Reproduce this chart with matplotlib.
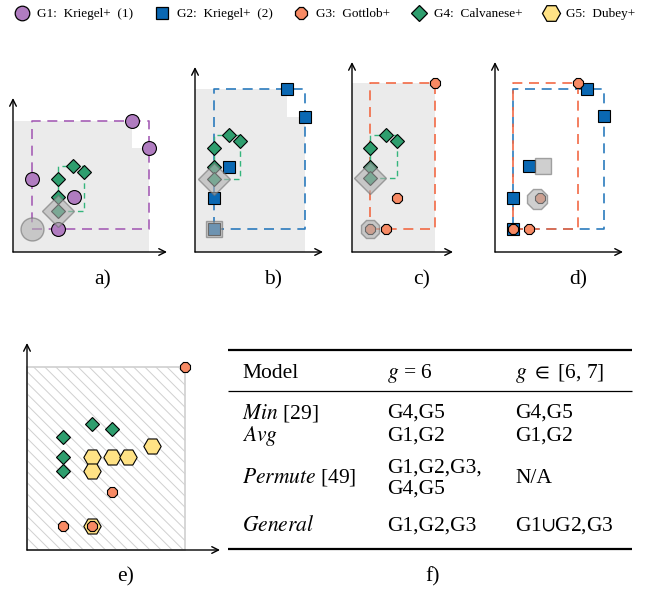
import matplotlib
matplotlib.use("Agg")
import matplotlib.pyplot as plt
from matplotlib.lines import Line2D
from matplotlib.patches import Rectangle

plt.rcParams['font.family'] = ['Liberation Serif', 'DejaVu Serif']
plt.rcParams['mathtext.fontset'] = 'stix'
plt.rcParams['hatch.linewidth'] = 0.7

# --- данные (координаты точек относительно начала осей каждой панели) ---
group_labels = ["G1:  Kriegel+  (1)", "G2:  Kriegel+  (2)", "G3:  Gottlob+",
                "G4:  Calvanese+", "G5:  Dubey+"]

# a) G1 + G4
a_g1_x = [119, 136, 19, 61, 45]
a_g1_y = [131, 104, 73, 55, 23]
a_g4_x = [60, 71, 45, 45, 45]
a_g4_y = [86, 80, 73, 55, 41]

# b) G2 + G4
b_g2_x = [92, 110, 34, 19, 19]
b_g2_y = [163, 135, 85, 54, 23]
b_g4_x = [34, 45, 19, 19, 19]
b_g4_y = [117, 111, 104, 85, 73]

# c) G3 + G4
c_g3_x = [83, 45, 34, 18]
c_g3_y = [169, 54, 23, 23]
c_g4_x = [34, 45, 18, 18, 18]
c_g4_y = [117, 111, 104, 85, 74]

# d) G2 + G3 (+ средние точки)
d_g2_x = [92, 109, 34, 18, 18]
d_g2_y = [163, 136, 86, 54, 23]
d_g3_x = [83, 45, 34, 18]
d_g3_y = [169, 54, 23, 23]
d_g2_mean = (48, 86)
d_g3_mean = (42, 53)

# e) все группы
e_g3_x = [158, 85, 36, 65]
e_g3_y = [183, 58, 24, 24]
e_g4_x = [65, 85, 36, 36, 36]
e_g4_y = [126, 121, 113, 93, 79]
e_g5_x = [125, 65, 85, 101, 65, 65]
e_g5_y = [104, 93, 93, 93, 79, 24]

# f) таблица
table_header = ["Model", r"$g$ = 6", r"$g$ $\in$ [6, 7]"]
table_models = [r"$\mathit{Min}$ [29]", r"$\mathit{Avg}$", r"$\mathit{Permute}$ [49]", r"$\mathit{General}$"]
table_g6 = ["G4,G5", "G1,G2", "G1,G2,G3,\nG4,G5", "G1,G2,G3"]
table_g67 = ["G4,G5", "G1,G2", "N/A", r"G1$\cup$G2,G3"]

# --- стили ---
STY = {
    "G1": dict(marker="o", ms=10, mfc="#b07cc0", line="#a65fb6"),
    "G2": dict(marker="s", ms=9, mfc="#0a68b3", line="#2b7bbd"),
    "G3": dict(marker="8", ms=8.5, mfc="#f78a64", line="#f26a45"),
    "G4": dict(marker="D", ms=7, mfc="#2e9e6e", line="#35b57c"),
    "G5": dict(marker="H", ms=12.5, mfc="#ffe285", line="#e0c050"),
}

FW, FH = 657, 592
fig = plt.figure(figsize=(FW / 100, FH / 100), dpi=100)


def panel(ox, oy, xlen, ylen, pad=18):
    ax = fig.add_axes([(ox - pad) / FW, (FH - oy - pad) / FH,
                       (xlen + 2 * pad) / FW, (ylen + 2 * pad) / FH])
    ax.set_xlim(-pad, xlen + pad)
    ax.set_ylim(-pad, ylen + pad)
    ax.axis("off")
    for end in [(xlen, 0), (0, ylen)]:
        ax.annotate("", xy=end, xytext=(0, 0),
                    arrowprops=dict(arrowstyle="->", color="black", lw=1.0,
                                    shrinkA=0, shrinkB=0, mutation_scale=12))
    return ax


def dominated(ax, xs, ys):
    for x, y in zip(xs, ys):
        ax.add_patch(Rectangle((0, 0), x, y, facecolor="#ebebeb", edgecolor="none", zorder=0))


def box(ax, xs, ys, g, lw=1.2, dash=(6, 4)):
    x0, x1, y0, y1 = min(xs), max(xs), min(ys), max(ys)
    ax.plot([x0, x1, x1, x0, x0], [y0, y0, y1, y1, y0], ls=(0, dash),
            color=STY[g]["line"], lw=lw, zorder=1)


def points(ax, xs, ys, g, z=3):
    s = STY[g]
    ax.plot(xs, ys, ls="none", marker=s["marker"], ms=s["ms"], mfc=s["mfc"],
            mec="black", mew=0.8, zorder=z)


def ghost(ax, x, y, marker, ms):
    ax.plot([x], [y], ls="none", marker=marker, ms=ms, mfc="#b0b0b0",
            mec="#707070", mew=1.0, alpha=0.6, zorder=5)


# a)
ax = panel(13, 252, 154, 154)
dominated(ax, a_g1_x, a_g1_y)
box(ax, a_g1_x, a_g1_y, "G1")
box(ax, a_g4_x, a_g4_y, "G4", lw=1.0, dash=(4, 3))
points(ax, a_g1_x, a_g1_y, "G1")
points(ax, a_g4_x, a_g4_y, "G4")
ghost(ax, min(a_g1_x), min(a_g1_y), "o", 16.5)
ghost(ax, min(a_g4_x), min(a_g4_y), "D", 16)

# b)
ax = panel(195, 252, 128, 185)
dominated(ax, b_g2_x, b_g2_y)
box(ax, b_g2_x, b_g2_y, "G2")
box(ax, b_g4_x, b_g4_y, "G4", lw=1.0, dash=(4, 3))
points(ax, b_g2_x, b_g2_y, "G2")
points(ax, b_g4_x, b_g4_y, "G4")
ghost(ax, min(b_g2_x), min(b_g2_y), "s", 11.5)
ghost(ax, min(b_g4_x), min(b_g4_y), "D", 16)

# c)
ax = panel(352, 252, 101, 190)
dominated(ax, c_g3_x, c_g3_y)
box(ax, c_g3_x, c_g3_y, "G3")
box(ax, c_g4_x, c_g4_y, "G4", lw=1.0, dash=(4, 3))
points(ax, c_g3_x, c_g3_y, "G3")
points(ax, c_g4_x, c_g4_y, "G4")
ghost(ax, min(c_g3_x), min(c_g3_y), "8", 14.5)
ghost(ax, min(c_g4_x), min(c_g4_y), "D", 16)

# d)
ax = panel(495, 252, 128, 190)
box(ax, d_g2_x, d_g2_y, "G2")
box(ax, d_g3_x, d_g3_y, "G3")
points(ax, d_g2_x, d_g2_y, "G2")
points(ax, d_g3_x, d_g3_y, "G3", z=4)
ghost(ax, *d_g2_mean, "s", 12)
ghost(ax, *d_g3_mean, "8", 15)

# e)
ax = panel(27, 550, 193, 207)
ax.add_patch(Rectangle((0, 0), max(e_g3_x), max(e_g3_y), facecolor="white",
                       edgecolor="#d0d0d0", hatch="\\\\\\", lw=1.2, zorder=0))
points(ax, e_g5_x, e_g5_y, "G5")
points(ax, e_g4_x, e_g4_y, "G4")
points(ax, e_g3_x, e_g3_y, "G3", z=4)

# f) таблица в пиксельных координатах
tab = fig.add_axes([0, 0, 1, 1], zorder=-1)
tab.set_xlim(0, FW)
tab.set_ylim(FH, 0)
tab.axis("off")
col_x = [242, 387, 515]
fs = 15.5
tab.hlines([350, 549], 228, 632, color="black", lw=1.6)
tab.hlines([391], 228, 632, color="black", lw=0.9)
for x, t in zip(col_x, table_header):
    tab.text(x, 378, t, fontsize=fs, va="baseline")
row_base = [418, 441, 483, 531]
for i, yb in enumerate(row_base):
    tab.text(col_x[0], yb, table_models[i], fontsize=fs, va="baseline")
    if "\n" in table_g6[i]:
        for k, line in enumerate(table_g6[i].split("\n")):
            tab.text(col_x[1], yb - 10 + 21 * k, line, fontsize=fs, va="baseline")
    else:
        tab.text(col_x[1], yb, table_g6[i], fontsize=fs, va="baseline")
    tab.text(col_x[2], yb, table_g67[i], fontsize=fs, va="baseline")

# подписи панелей
for lab, (x, y) in zip(["a)", "b)", "c)", "d)", "e)", "f)"],
                       [(103, 280), (273, 280), (422, 280), (578, 280), (126, 577), (433, 577)]):
    tab.text(x, y, lab, fontsize=fs, ha="center", va="center")

# легенда
handles = []
for g in ["G1", "G2", "G3", "G4", "G5"]:
    s = STY[g]
    ms = {"G1": 10.5, "G2": 9, "G3": 9, "G4": 8, "G5": 13}[g]
    handles.append(Line2D([], [], ls="none", marker=s["marker"], ms=ms,
                          mfc=s["mfc"], mec="black", mew=0.9))
fig.legend(handles, group_labels, loc="upper center", bbox_to_anchor=(0.494, 1.0),
           ncol=5, frameon=False, fontsize=9.5, handletextpad=0.55,
           columnspacing=1.55, handlelength=1.2, borderaxespad=0.2)

fig.savefig("out.png", dpi=100)
